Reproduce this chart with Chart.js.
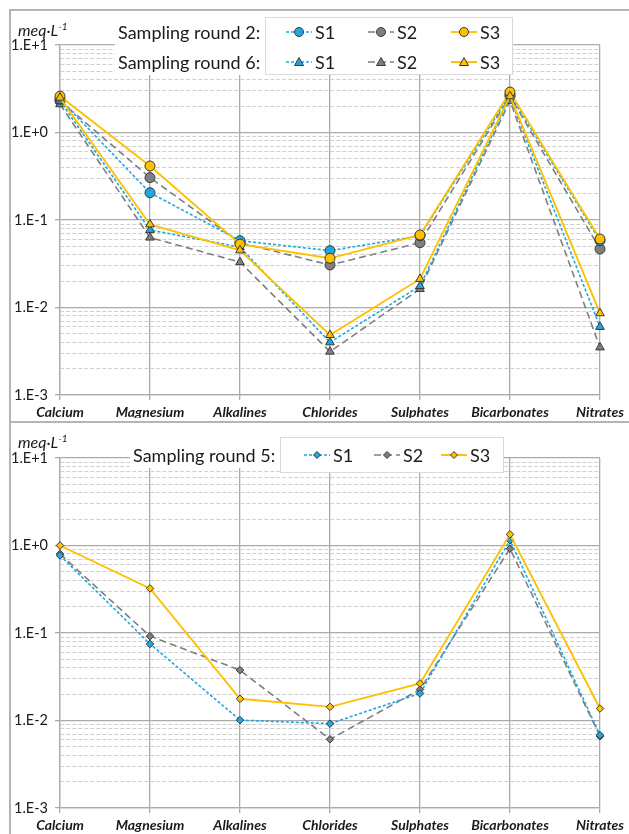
<!DOCTYPE html>
<html>
<head>
<meta charset="utf-8">
<script src="https://cdn.jsdelivr.net/npm/chart.js@4.4.0/dist/chart.umd.min.js"></script>
<style>
  body { margin: 0; width: 629px; height: 834px; position: relative; background: #fff; font-family: Lato, sans-serif; overflow: hidden; color: #1a1a1a; }
  canvas { position: absolute; left: 0; }
  .rule { position: absolute; background: #b5b5b5; }
  .txt { position: absolute; background: #fff; font-size: 18px; white-space: nowrap; }
  .legend { position: absolute; background: #fff; border: 1px solid #d9d9d9; box-sizing: border-box; }
  .item { position: absolute; display: flex; align-items: center; font-size: 18px; height: 20px; }
  .item svg { margin-right: 3px; }
  .unit { position: absolute; font-style: italic; font-size: 16px; line-height: 16px; }
  .unit sup { font-size: 10px; line-height: 0; }
</style>
</head>
<body>
<canvas id="top" width="629" height="418" style="top:0"></canvas>
<canvas id="bottom" width="629" height="416" style="top:418px"></canvas>

<div class="rule" style="left:9px;top:9px;width:620px;height:2px"></div>
<div class="rule" style="left:9px;top:9px;width:2px;height:825px"></div>
<div class="rule" style="left:9px;top:421px;width:620px;height:2px"></div>

<div class="unit" style="left:18px;top:22px">meq·L<sup>-1</sup></div>
<div class="unit" style="left:18px;top:434px">meq·L<sup>-1</sup></div>

<div class="txt" style="left:115px;top:17px;width:150px;height:58px">
  <div style="position:absolute;left:3px;top:4px">Sampling round 2:</div>
  <div style="position:absolute;left:3px;top:34px">Sampling round 6:</div>
</div>
<div class="legend" id="legTop" style="left:265px;top:17px;width:248px;height:58px"></div>

<div class="txt" style="left:130px;top:444px;width:150px;height:24px">
  <div style="position:absolute;left:3px;top:0px">Sampling round 5:</div>
</div>
<div class="legend" id="legBot" style="left:280px;top:437px;width:224px;height:36px"></div>

<script>
const categories = ['Calcium', 'Magnesium', 'Alkalines', 'Chlorides', 'Sulphates', 'Bicarbonates', 'Nitrates'];
const yDecades = [0.001, 0.01, 0.1, 1, 10];
const yTickLabels = ['1.E-3', '1.E-2', '1.E-1', '1.E+0', '1.E+1'];
const stations = ['S1', 'S2', 'S3'];

// sampling round 2 (circles)
const r2S1 = [2.4, 0.205, 0.058, 0.0446, 0.066, 2.7, 0.058];
const r2S2 = [2.3, 0.305, 0.055, 0.0306, 0.055, 2.6, 0.0466];
const r2S3 = [2.6, 0.414, 0.053, 0.0365, 0.0674, 2.9, 0.0607];
// sampling round 6 (triangles)
const r6S1 = [2.3, 0.077, 0.049, 0.0040, 0.0176, 2.5, 0.0060];
const r6S2 = [2.1, 0.063, 0.033, 0.00313, 0.0163, 2.3, 0.0035];
const r6S3 = [2.5, 0.089, 0.045, 0.00485, 0.0212, 2.6, 0.0086];
// sampling round 5 (diamonds)
const r5S1 = [0.77, 0.075, 0.0101, 0.0092, 0.0204, 1.15, 0.0068];
const r5S2 = [0.80, 0.092, 0.0376, 0.0061, 0.0226, 0.92, 0.0066];
const r5S3 = [1.0, 0.323, 0.0177, 0.0143, 0.0265, 1.34, 0.0137];

const style = {
  S1: { color: '#1fa7df', dash: [3, 2], width: 1.6 },
  S2: { color: '#7f7f7f', dash: [7, 4], width: 1.6 },
  S3: { color: '#ffc000', dash: [], width: 1.9 }
};

// gridline positions: every 1..9 step inside each decade
const yGrid = [];
yDecades.forEach((d, i) => {
  if (i === yDecades.length - 1) { yGrid.push(d); return; }
  for (let k = 1; k <= 9; k++) yGrid.push(d * k);
});

function isMajor(v) {
  return v !== undefined && yDecades.some(d => Math.abs(d - v) / d < 1e-6);
}

function ds(data, st, shape, radius) {
  const s = style[st];
  return {
    label: st, data,
    borderColor: s.color, borderWidth: s.width, borderDash: s.dash,
    pointStyle: shape, pointRadius: radius, pointBackgroundColor: s.color,
    pointBorderColor: '#3a3a3a', pointBorderWidth: 1,
    tension: 0, clip: false
  };
}

function options(topPad, xHeight) {
  return {
    responsive: false, animation: false, devicePixelRatio: 1,
    layout: { padding: { top: topPad, right: 29, left: 0, bottom: 0 } },
    plugins: { legend: { display: false }, tooltip: { enabled: false } },
    scales: {
      x: {
        afterFit: s => { s.height = xHeight; },
        ticks: { padding: 4, maxRotation: 0, autoSkip: false, color: '#1a1a1a',
          font: { family: 'Lato', size: 14, style: 'italic', weight: 'bold' } },
        grid: { color: '#ababab', lineWidth: 1.3, tickLength: 5, offset: false },
        border: { color: '#ababab', width: 1.3 }
      },
      y: {
        type: 'logarithmic', min: 0.001, max: 10,
        afterBuildTicks: s => { s.ticks = yGrid.map(v => ({ value: v })); },
        afterFit: s => { s.width = 60; },
        ticks: {
          autoSkip: false, padding: 7, color: '#1a1a1a', font: { family: 'Lato', size: 14.5 },
          callback: v => {
            const i = yDecades.findIndex(d => Math.abs(d - v) / d < 1e-6);
            return i < 0 ? '' : yTickLabels[i];
          }
        },
        grid: {
          color: c => isMajor(c.tick && c.tick.value) ? '#ababab' : '#d0d0d0',
          lineWidth: c => isMajor(c.tick && c.tick.value) ? 1.3 : 1,
          tickColor: c => isMajor(c.tick && c.tick.value) ? '#ababab' : 'rgba(0,0,0,0)',
          tickLength: 5
        },
        border: { color: '#ababab', width: 1.3, dash: c => (c.tick && !isMajor(c.tick.value)) ? [4, 2] : [] }
      }
    }
  };
}

new Chart(document.getElementById('top'), {
  type: 'line',
  data: {
    labels: categories,
    datasets: [
      ds(r6S3, 'S3', 'triangle', 5), ds(r2S3, 'S3', 'circle', 5),
      ds(r6S1, 'S1', 'triangle', 5), ds(r2S1, 'S1', 'circle', 5),
      ds(r6S2, 'S2', 'triangle', 5), ds(r2S2, 'S2', 'circle', 5)
    ]
  },
  options: options(45, 23)
});

new Chart(document.getElementById('bottom'), {
  type: 'line',
  data: {
    labels: categories,
    datasets: [ds(r5S3, 'S3', 'rectRot', 3.8), ds(r5S1, 'S1', 'rectRot', 3.8), ds(r5S2, 'S2', 'rectRot', 3.8)]
  },
  options: options(40, 26)
});

// legend symbols
function symbol(st, shape) {
  const s = style[st];
  const c = s.color;
  let m;
  if (shape === 'circle') m = `<circle cx="13" cy="7" r="4.5" fill="${c}" stroke="#3a3a3a" stroke-width="1"/>`;
  else if (shape === 'triangle') m = `<polygon points="13,2.5 17.5,10.5 8.5,10.5" fill="${c}" stroke="#3a3a3a" stroke-width="1"/>`;
  else m = `<polygon points="13,3.5 16.5,7 13,10.5 9.5,7" fill="${c}" stroke="#3a3a3a" stroke-width="1"/>`;
  return `<svg width="26" height="14"><line x1="0" y1="7" x2="26" y2="7" stroke="${c}" stroke-width="${s.width}" stroke-dasharray="${s.dash.join(',')}"/>${m}</svg>`;
}

function addItems(box, rows, xs) {
  rows.forEach(row => {
    stations.forEach((st, i) => {
      const el = document.createElement('div');
      el.className = 'item';
      el.style.left = xs[i] + 'px';
      el.style.top = (row.y - 10) + 'px';
      el.innerHTML = symbol(st, row.shape) + st;
      box.appendChild(el);
    });
  });
}

addItems(document.getElementById('legTop'), [{ y: 14, shape: 'circle' }, { y: 44, shape: 'triangle' }], [20, 102, 185]);
addItems(document.getElementById('legBot'), [{ y: 17, shape: 'rectRot' }], [23, 93, 160]);
</script>
</body>
</html>
